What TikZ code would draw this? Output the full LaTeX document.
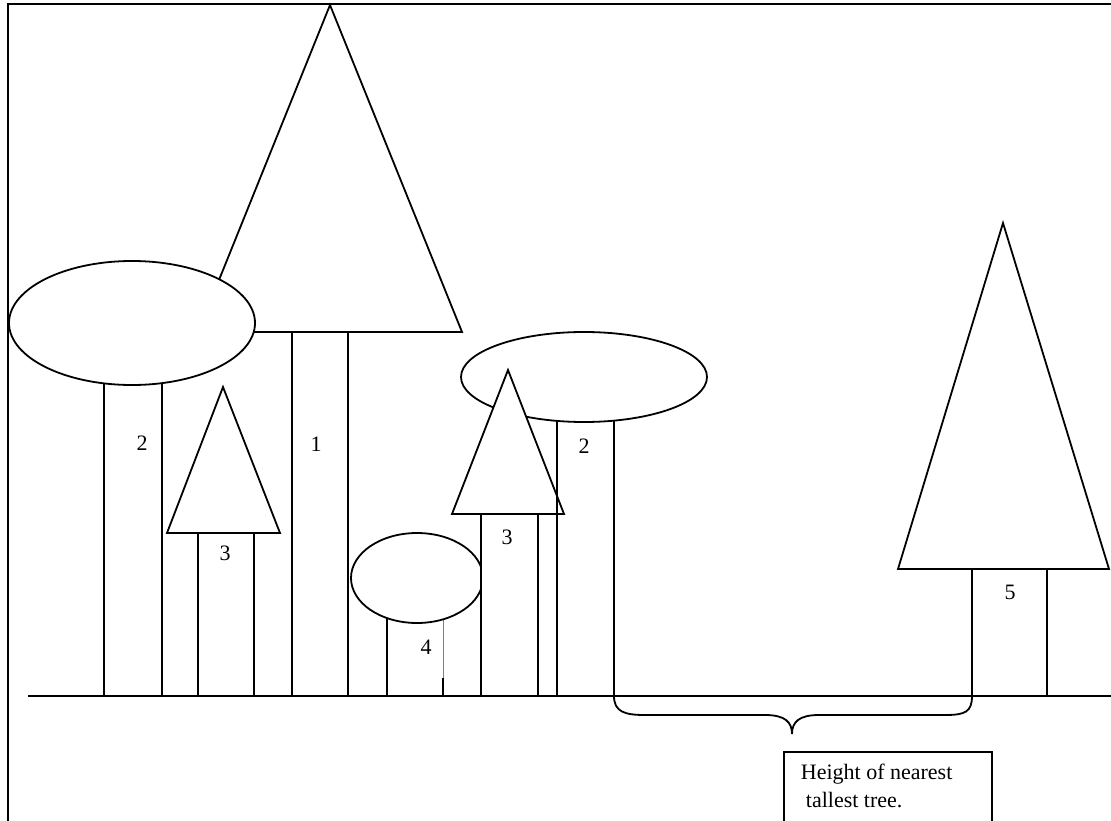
\documentclass[tikz,border=0pt]{standalone}
\usepackage{fontspec}
\setmainfont{Liberation Serif}
\begin{document}
\begin{tikzpicture}[x=1pt,y=-1pt, line width=1.8pt,
  crown/.style={draw, fill=white},
  trunkbox/.style={draw, fill=white},
  lbl/.style={font=\fontsize{22}{28}\selectfont, inner sep=0pt}]
\useasboundingbox (0,0) rectangle (1111,821);
% frame
\draw[line width=2.2pt] (8,821) -- (8,4) -- (1111,4);
% tree 1
\draw[trunkbox] (292,320) rectangle (348,696);
\draw[crown] (330,5) -- (462,332) -- (198,332) -- cycle;
% tree 2 left
\draw[trunkbox] (104,370) rectangle (162,696);
\draw[crown] (132,323) ellipse [x radius=123pt, y radius=62pt];
% tree 3 left
\draw[trunkbox] (198,533) rectangle (254,696);
\draw[crown] (223,387) -- (280,533) -- (167,533) -- cycle;
% tree 4
\draw (387,610) -- (387,696);
\draw[line width=0.6pt, gray] (443,610) -- (443,696);
\draw (443,678) -- (443,696);
\draw[crown] (417,578) ellipse [x radius=66pt, y radius=45pt];
% tree 2 right
\draw[trunkbox] (557,410) rectangle (614,696);
\draw[crown] (584,377) ellipse [x radius=123pt, y radius=45pt];
% tree 3 middle
\draw[trunkbox] (481,514) rectangle (538,696);
\draw[crown] (508,370) -- (564,514) -- (452,514) -- cycle;
\draw (557,490) -- (557,696);
% tree 5
\draw[trunkbox] (972,569) rectangle (1047,696);
\draw[crown] (1003,223) -- (1109,569) -- (898,569) -- cycle;
% ground
\draw (28,696) -- (1111,696);
% labels
\node[lbl] (l1) at (316,444) {1};
\node[lbl] (l2a) at (142,443) {2};
\node[lbl] (l3a) at (225,553) {3};
\node[lbl] (l4) at (426,647) {4};
\node[lbl] (l3b) at (507,537) {3};
\node[lbl] (l2b) at (584,446) {2};
\node[lbl] (l5) at (1010,592) {5};
% brace
\coordinate (bl) at (614,696);
\coordinate (br) at (972,696);
\coordinate (tip) at (792,734);
\draw (bl) .. controls (614,712) and (625,715) .. (645,715) -- (765,715)
  .. controls (785,715) and (792,722) .. (tip)
  .. controls (792,722) and (799,715) .. (819,715) -- (945,715)
  .. controls (965,715) and (972,712) .. (br);
% text box
\node[draw, line width=1.8pt, minimum width=208pt, minimum height=90pt, anchor=north west, inner sep=0pt] (box) at (783,751) {};
\node[lbl, anchor=base west] (t1) at (800,779) {Height of nearest};
\node[lbl, anchor=base west] (t2) at (805,807) {tallest tree.};
\end{tikzpicture}
\end{document}
